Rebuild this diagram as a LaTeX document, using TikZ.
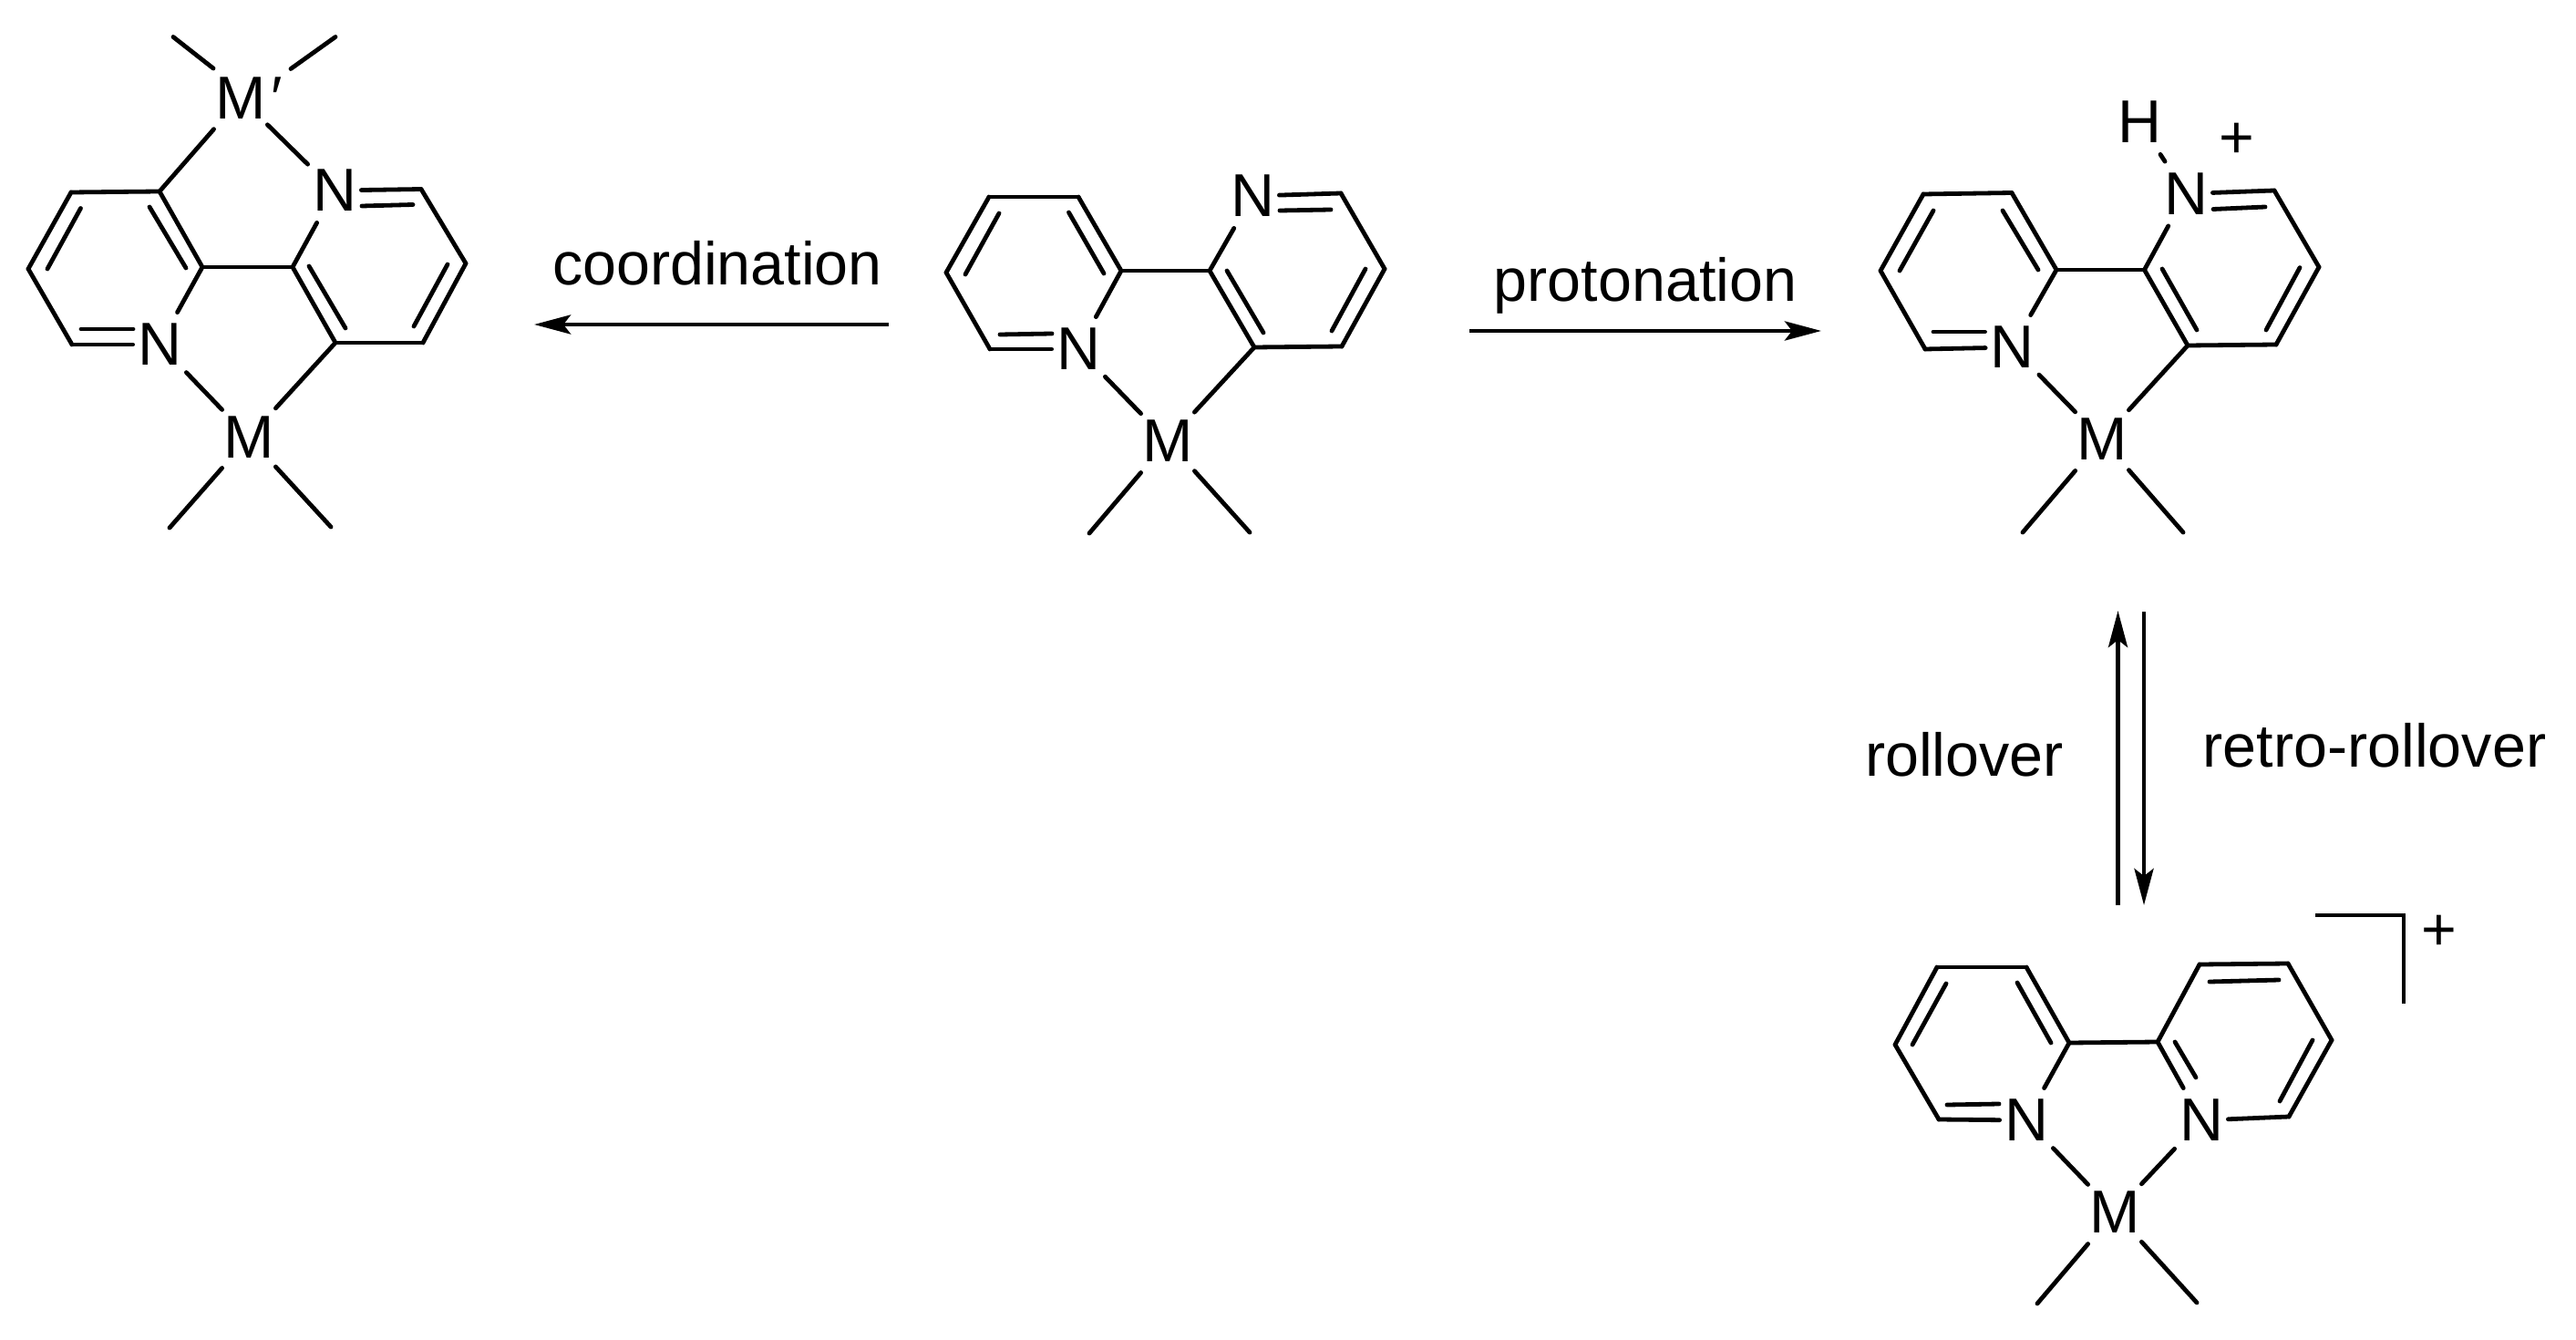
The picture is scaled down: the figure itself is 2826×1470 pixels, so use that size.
\documentclass[tikz,border=0pt]{standalone}
\usepackage{fontspec}
\setmainfont{Liberation Sans}
\usetikzlibrary{arrows.meta}

\tikzset{
  atom/.style = {inner sep=0pt, minimum width=29pt, minimum height=35pt,
    font=\fontsize{33.2}{36}\selectfont},
  caption/.style = {inner sep=0pt, anchor=base,
    font=\fontsize{33.2}{36}\selectfont},
  bond/.style = {line width=2.4pt, line cap=round},
  reaction/.style = {line width=2.4pt,
    -{Stealth[length=20pt,width=10.5pt,inset=4pt]}}
}

\begin{document}
\begin{tikzpicture}[x=0.5pt, y=-0.5pt]
  \useasboundingbox (0,0) rectangle (2826,1470);

  \node[atom] (lMp) at (264,108) {M\rlap{\kern 3pt′}};
  \node[atom] (lNa) at (367,209) {N};
  \node[atom] (lNb) at (175,378) {N};
  \node[atom] (lM) at (273,480) {M};
  \foreach \n/\x/\y in {la/78/211, lb/175/210, lc/222/293, ld/31/295, le/79/378,
      lf/321/293, lg/462/207.5, lh/511/289, li/464/376, lj/368/376,
      lk/234/75, lm/190/40.5, ln/319/75.5, lo/368/40.5, lp/186/579, lq/363/578,
      l1a/88.5/228.5, l1b/52/295, l2a/164/227, l2b/204/294, l3a/339/292, l3b/379/360,
      l4a/491/290, l4b/454/358, l5a/397/226, l5b/453/224.5, l6a/89/361, l6b/146/361}
    \coordinate (\n) at (\x,\y);
  \foreach \p/\q in {la/lb, lb/lc, lc/lNb, lNb/le, le/ld, ld/la, lc/lf, lf/lNa, lNa/lg,
      lg/lh, lh/li, li/lj, lj/lf, lb/lMp, lMp/lNa, lNb/lM, lM/lj, lk/lm, ln/lo, lM/lp, lM/lq,
      l1a/l1b, l2a/l2b, l3a/l3b, l4a/l4b, l5a/l5b, l6a/l6b}
    \draw[bond] (\p) -- (\q);

  \node[atom] (cNa) at (1374,215) {N};
  \node[atom] (cNb) at (1183,383) {N};
  \node[atom] (cM) at (1281,484) {M};
  \foreach \n/\x/\y in {ca/1085/216, cb/1183/216, cc/1230/297, cd/1038/299, ce/1086/383,
      cf/1327/297, cg/1471/212, ch/1519/295, ci/1472/380, cj/1376/381,
      cp/1195/585, cq/1371/584,
      c1a/1096/234, c1b/1059/301, c2a/1172.5/233, c2b/1211/300, c3a/1346/297, c3b/1386/365,
      c4a/1498/295, c4b/1461/363, c5a/1404/231, c5b/1460/230, c6a/1097/367, c6b/1154/366}
    \coordinate (\n) at (\x,\y);
  \foreach \p/\q in {ca/cb, cb/cc, cc/cNb, cNb/ce, ce/cd, cd/ca, cc/cf, cf/cNa, cNa/cg,
      cg/ch, ch/ci, ci/cj, cj/cf, cNb/cM, cM/cj, cM/cp, cM/cq,
      c1a/c1b, c2a/c2b, c3a/c3b, c4a/c4b, c5a/c5b, c6a/c6b}
    \draw[bond] (\p) -- (\q);

  \node[atom] (pH) at (2347,134) {H};
  \node[atom] (pNa) at (2398,212.5) {N};
  \node[atom] (pNb) at (2207.5,381) {N};
  \node[atom] (pM) at (2306,482) {M};
  \node[atom] (pplus) at (2454,154) {+};
  \foreach \n/\x/\y in {pa/2110/213, pb/2207/211.5, pc/2256/296, pd/2063/297, pe/2112/383,
      pf/2352.5/296, pg/2495/209, ph/2544/293, pi/2497/378, pj/2400/379,
      pp/2219/584, pq/2395/584,
      p1a/2121/231, p1b/2084/297, p2a/2197/231, p2b/2236/296, p3a/2372/295, p3b/2410/362,
      p4a/2523/293.6, p4b/2486/362, p5a/2428/229.5, p5b/2485/227, p6a/2121/364, p6b/2177.5/364}
    \coordinate (\n) at (\x,\y);
  \foreach \p/\q in {pa/pb, pb/pc, pc/pNb, pNb/pe, pe/pd, pd/pa, pc/pf, pf/pNa, pNa/pg,
      pg/ph, ph/pi, pi/pj, pj/pf, pNa/pH, pNb/pM, pM/pj, pM/pp, pM/pq,
      p1a/p1b, p2a/p2b, p3a/p3b, p4a/p4b, p5a/p5b, p6a/p6b}
    \draw[bond] (\p) -- (\q);

  \node[atom] (rNa) at (2415,1229) {N};
  \node[atom] (rNb) at (2223,1229) {N};
  \node[atom] (rM) at (2320,1330) {M};
  \node[atom] (rplus) at (2676,1023) {+};
  \foreach \n/\x/\y in {ra/2125/1061, rb/2223/1061, rc/2270/1144, rd/2079/1146, re/2127/1228,
      rf/2367/1143, rg/2413/1058, rh/2510/1057, ri/2558/1141, rj/2511/1225,
      rp/2235/1430, rq/2410/1429, rs/2540/1004, rt/2637/1004, ru/2637/1101,
      r1a/2135/1079, r1b/2098/1146, r2a/2213/1078, r2b/2250/1144, r3a/2424/1077, r3b/2500/1075,
      r4a/2537/1141, r4b/2501/1208, r5a/2386/1143, r5b/2409/1182, r6a/2136/1212, r6b/2193/1211}
    \coordinate (\n) at (\x,\y);
  \foreach \p/\q in {ra/rb, rb/rc, rc/rNb, rNb/re, re/rd, rd/ra, rc/rf, rf/rNa, rNa/rj,
      rj/ri, ri/rh, rh/rg, rg/rf, rNb/rM, rNa/rM, rM/rp, rM/rq,
      r1a/r1b, r2a/r2b, r3a/r3b, r4a/r4b, r5a/r5b, r6a/r6b}
    \draw[bond] (\p) -- (\q);
  \draw[line width=2.4pt] (rs) -- (rt) -- (ru);

  \coordinate (coordstart) at (975,356);
  \coordinate (coordend) at (586,356);
  \coordinate (protstart) at (1612,363);
  \coordinate (protend) at (1998,363);
  \coordinate (rollstart) at (2323.5,993);
  \coordinate (rollend) at (2323.5,670);
  \coordinate (retrostart) at (2352,671);
  \coordinate (retroend) at (2352,993);
  \draw[reaction] (coordstart) -- (coordend);
  \draw[reaction] (protstart) -- (protend);
  \draw[reaction] (rollstart) -- (rollend);
  \draw[reaction] (retrostart) -- (retroend);

  \node[caption] (coord) at (787,313) {coordination};
  \node[caption] (prot) at (1805,331) {protonation};
  \node[caption] (roll) at (2155,851) {rollover};
  \node[caption] (retro) at (2605,841) {retro-rollover};
\end{tikzpicture}
\end{document}
